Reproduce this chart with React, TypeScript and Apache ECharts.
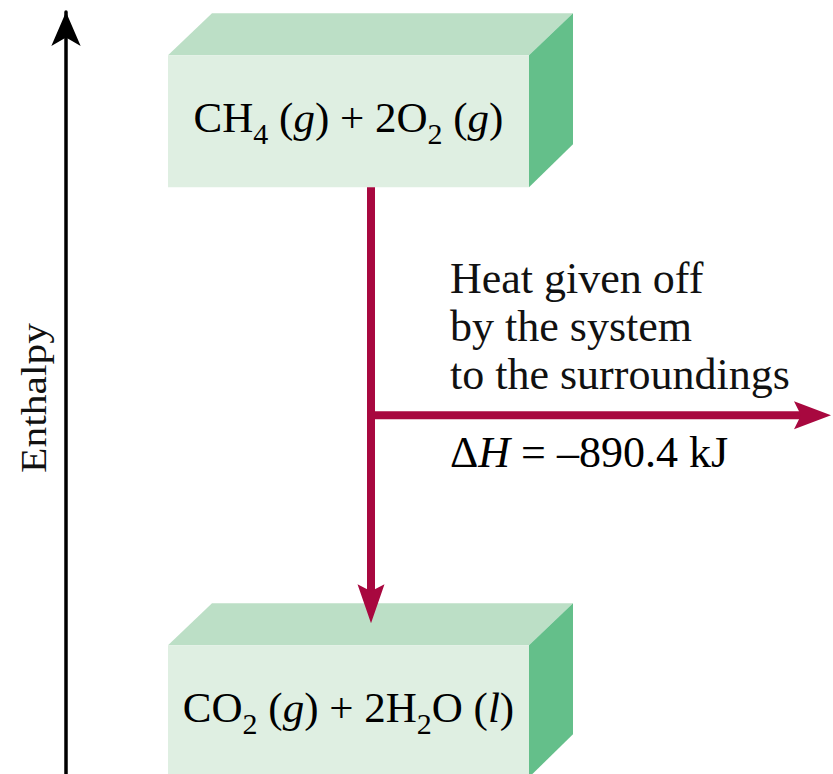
import React, { useEffect, useRef } from "react";
import * as echarts from "echarts";

// ---- data ----
const stateNames = ["CH4 (g) + 2O2 (g)", "CO2 (g) + 2H2O (l)"];
const stateLabels = [
  "{m|CH}{s|4}{m| (}{i|g}{m|) + 2O}{s|2}{m| (}{i|g}{m|)}",
  "{m|CO}{s|2}{m| (}{i|g}{m|) + 2H}{s|2}{m|O (}{i|l}{m|)}",
];
const enthalpyValues = [0, -890.4]; // kJ, relative to reactants
const heatLines = ["Heat given off", "by the system", "to the surroundings"];
const axisTitle = "Enthalpy";
const axisRange = [-985, 165];

const deltaH = enthalpyValues[1] - enthalpyValues[0];

// ---- style / layout ----
const FONT = '"Liberation Serif", "Times New Roman", serif';
const TEXT = "#111111";
const RED = "#a8083f";
const FRONT = "#dfefe2";
const TOP = "#bcdfc6";
const SIDE = "#64bf8a";
const BOX_L = 168;
const BOX_R = 529;
const HALF_H = 66;
const DX = 44;
const DY = 42;
const ARROW_X = 371;

const rich = {
  m: { fontFamily: FONT, fontSize: 43, lineHeight: 44, verticalAlign: "top", color: TEXT },
  i: { fontFamily: FONT, fontSize: 43, lineHeight: 44, verticalAlign: "top", fontStyle: "italic", color: TEXT },
  s: { fontFamily: FONT, fontSize: 30, lineHeight: 44, verticalAlign: "top", padding: [22, 0, 0, 0], color: TEXT },
  d: { fontFamily: FONT, fontSize: 44, lineHeight: 46, color: TEXT },
  di: { fontFamily: FONT, fontSize: 44, lineHeight: 46, fontStyle: "italic", color: TEXT },
};

export default function App() {
  const ref = useRef<HTMLDivElement>(null);
  useEffect(() => {
    if (!ref.current) return;
    const chart = echarts.init(ref.current, undefined, { renderer: "svg" });
    const option: any = {
      animation: false,
      backgroundColor: "#ffffff",
      grid: { left: 66, right: 0, top: 12, bottom: 0 },
      xAxis: { type: "value", min: 0, max: 1, show: false },
      yAxis: {
        type: "value",
        min: axisRange[0],
        max: axisRange[1],
        axisLine: {
          show: true,
          onZero: false,
          symbol: ["none", "arrow"],
          symbolSize: [22, 34],
          lineStyle: { color: "#000", width: 3.5 },
        },
        axisTick: { show: false },
        axisLabel: { show: false },
        splitLine: { show: false },
      },
      graphic: [
        {
          type: "text",
          x: 34,
          y: 398,
          rotation: Math.PI / 2,
          scaleX: 1,
          scaleY: 0.85,
          style: {
            text: axisTitle,
            font: `41.5px ${FONT}`,
            fill: TEXT,
            align: "center",
            verticalAlign: "middle",
          },
        },
      ],
      series: [
        {
          type: "custom",
          name: "states",
          z: 2,
          data: enthalpyValues.map((v, i) => [0.5, v, i]),
          renderItem: (params: any, api: any) => {
            const idx = api.value(2);
            const cy = api.coord([0.5, api.value(1)])[1];
            const t = cy - HALF_H;
            const b = cy + HALF_H;
            return {
              type: "group",
              children: [
                {
                  type: "polygon",
                  shape: { points: [[BOX_L, t], [BOX_L + DX, t - DY], [BOX_R + DX, t - DY], [BOX_R, t]] },
                  style: { fill: TOP },
                },
                {
                  type: "polygon",
                  shape: { points: [[BOX_R, t], [BOX_R + DX, t - DY], [BOX_R + DX, b - DY - 1], [BOX_R, b]] },
                  style: { fill: SIDE },
                },
                {
                  type: "rect",
                  shape: { x: BOX_L, y: t, width: BOX_R - BOX_L, height: b - t },
                  style: { fill: FRONT },
                },
                {
                  type: "text",
                  x: (BOX_L + BOX_R) / 2,
                  y: cy - 3,
                  style: {
                    text: stateLabels[idx],
                    rich,
                    align: "center",
                    verticalAlign: "middle",
                  },
                },
              ],
            };
          },
        },
        {
          type: "custom",
          name: "transition",
          z: 3,
          data: [[0.5, enthalpyValues[0], enthalpyValues[1]]],
          renderItem: (params: any, api: any) => {
            const y1 = api.coord([0.5, api.value(1)])[1] + HALF_H;
            const yp = api.coord([0.5, api.value(2)])[1];
            const tip = yp - HALF_H - 22;
            const ym = api.coord([0.5, (api.value(1) + api.value(2)) / 2])[1] - 1;
            const htip = 831;
            return {
              type: "group",
              children: [
                {
                  type: "rect",
                  shape: { x: ARROW_X - 4, y: y1, width: 8, height: tip - 30 - y1 },
                  style: { fill: RED },
                },
                {
                  type: "polygon",
                  shape: {
                    points: [
                      [ARROW_X, tip],
                      [ARROW_X + 13.5, tip - 39],
                      [ARROW_X, tip - 32],
                      [ARROW_X - 13.5, tip - 39],
                    ],
                  },
                  style: { fill: RED },
                },
                {
                  type: "rect",
                  shape: { x: ARROW_X, y: ym - 4, width: htip - 29 - ARROW_X, height: 8 },
                  style: { fill: RED },
                },
                {
                  type: "polygon",
                  shape: {
                    points: [
                      [htip, ym],
                      [htip - 37, ym - 14],
                      [htip - 30, ym],
                      [htip - 37, ym + 14],
                    ],
                  },
                  style: { fill: RED },
                },
                {
                  type: "text",
                  x: ARROW_X + 79,
                  y: ym - 89,
                  style: {
                    text: heatLines.join("\n"),
                    font: `44px ${FONT}`,
                    lineHeight: 48,
                    fill: TEXT,
                    align: "left",
                    verticalAlign: "middle",
                  },
                },
                {
                  type: "text",
                  x: ARROW_X + 79,
                  y: ym + 37,
                  style: {
                    text: `{d|Δ}{di|H}{d| = –${Math.abs(deltaH).toFixed(1)} kJ}`,
                    rich,
                    align: "left",
                    verticalAlign: "middle",
                  },
                },
              ],
            };
          },
        },
      ],
    };
    chart.setOption(option);
    return () => chart.dispose();
  }, []);
  return (
    <div
      ref={ref}
      style={{ position: "absolute", left: 0, top: 0, width: 833, height: 774, background: "#fff" }}
    />
  );
}
